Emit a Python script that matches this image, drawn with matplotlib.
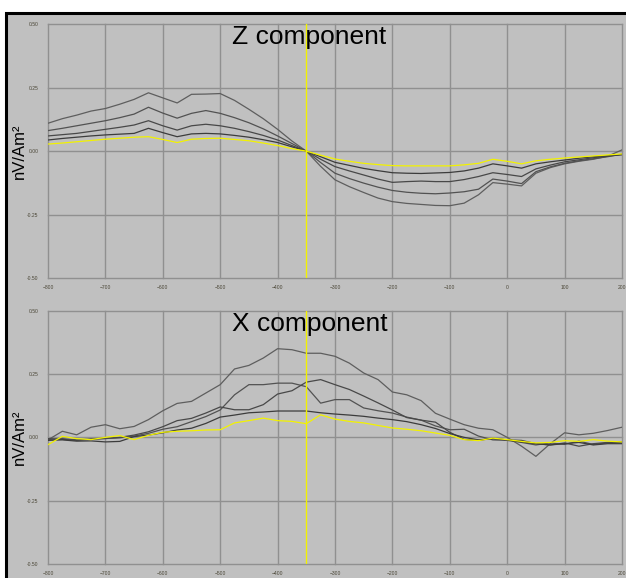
import numpy as np
import matplotlib
matplotlib.use("Agg")
import matplotlib.pyplot as plt
from matplotlib.patches import Rectangle

plt.rcParams['font.family'] = ['Liberation Sans', 'DejaVu Sans']

# time axis (ms), samples every 25 ms
time_ms = list(range(-800, 201, 25))

# ---- Z component ----
z_a = [0.11, 0.128, 0.142, 0.158, 0.168, 0.185, 0.204, 0.23, 0.21, 0.19, 0.224, 0.225, 0.227, 0.2, 0.165,
       0.128, 0.086, 0.04, 0.0, -0.06, -0.113, -0.14, -0.163, -0.185, -0.199, -0.206, -0.21, -0.214, -0.215,
       -0.205, -0.172, -0.124, -0.13, -0.137, -0.087, -0.065, -0.05, -0.04, -0.032, -0.02, 0.005]
z_b = [0.081, 0.09, 0.1, 0.11, 0.12, 0.132, 0.146, 0.173, 0.15, 0.13, 0.149, 0.16, 0.149, 0.132, 0.112,
       0.088, 0.06, 0.03, 0.0, -0.045, -0.087, -0.108, -0.126, -0.142, -0.155, -0.162, -0.166, -0.168, -0.165,
       -0.16, -0.15, -0.11, -0.118, -0.128, -0.081, -0.062, -0.048, -0.038, -0.03, -0.022, -0.012]
z_c = [0.06, 0.065, 0.07, 0.078, 0.086, 0.094, 0.103, 0.12, 0.1, 0.083, 0.1, 0.106, 0.1, 0.09, 0.077,
       0.062, 0.044, 0.022, 0.0, -0.032, -0.061, -0.078, -0.094, -0.11, -0.123, -0.12, -0.118, -0.12, -0.12,
       -0.112, -0.1, -0.085, -0.092, -0.1, -0.07, -0.055, -0.042, -0.034, -0.026, -0.02, -0.013]
z_d = [0.044, 0.05, 0.055, 0.06, 0.064, 0.067, 0.07, 0.09, 0.073, 0.057, 0.068, 0.07, 0.068, 0.062, 0.055,
       0.045, 0.034, 0.017, 0.0, -0.022, -0.044, -0.056, -0.068, -0.077, -0.085, -0.087, -0.088, -0.086, -0.084,
       -0.078, -0.067, -0.05, -0.058, -0.067, -0.05, -0.042, -0.035, -0.028, -0.022, -0.018, -0.014]
z_yel = [0.028, 0.032, 0.037, 0.042, 0.047, 0.051, 0.055, 0.057, 0.046, 0.034, 0.047, 0.05, 0.051, 0.046, 0.041,
         0.032, 0.022, 0.01, 0.0, -0.016, -0.031, -0.04, -0.048, -0.053, -0.057, -0.058, -0.058, -0.058, -0.058,
         -0.054, -0.048, -0.032, -0.04, -0.05, -0.038, -0.032, -0.027, -0.023, -0.019, -0.015, -0.011]

# ---- X component ----
x_a = [-0.01, 0.024, 0.01, 0.04, 0.05, 0.034, 0.043, 0.07, 0.105, 0.134, 0.142, 0.175, 0.208, 0.27, 0.284,
       0.313, 0.35, 0.346, 0.332, 0.332, 0.32, 0.293, 0.254, 0.228, 0.179, 0.168, 0.145, 0.095, 0.072,
       0.05, 0.036, 0.03, 0.0, -0.035, -0.075, -0.025, 0.018, 0.01, 0.016, 0.027, 0.04]
x_p = [-0.008, -0.005, -0.01, -0.006, -0.004, -0.002, 0.005, 0.016, 0.032, 0.042, 0.062, 0.082, 0.108, 0.168, 0.208,
       0.208, 0.214, 0.214, 0.2, 0.135, 0.149, 0.149, 0.116, 0.105, 0.096, 0.08, 0.068, 0.045, 0.03,
       0.032, 0.005, -0.01, -0.012, -0.02, -0.03, -0.022, -0.028, -0.015, -0.028, -0.022, -0.02]
x_r = [-0.005, -0.008, -0.012, -0.008, -0.005, 0.0, 0.009, 0.022, 0.042, 0.066, 0.075, 0.096, 0.12, 0.109, 0.109,
       0.129, 0.171, 0.184, 0.218, 0.228, 0.208, 0.189, 0.163, 0.136, 0.108, 0.078, 0.068, 0.06, 0.02,
       -0.008, -0.012, -0.004, -0.01, -0.012, -0.025, -0.03, -0.022, -0.035, -0.025, -0.02, -0.018]
x_f = [-0.012, -0.01, -0.015, -0.014, -0.018, -0.016, 0.003, 0.009, 0.018, 0.029, 0.036, 0.055, 0.08, 0.088, 0.097,
       0.1, 0.104, 0.104, 0.104, 0.097, 0.092, 0.088, 0.083, 0.076, 0.07, 0.062, 0.05, 0.035, 0.015,
       0.0, -0.01, -0.005, -0.01, -0.018, -0.025, -0.03, -0.025, -0.02, -0.03, -0.025, -0.025]
x_yel = [-0.029, 0.004, -0.005, -0.009, 0.0, 0.007, -0.009, 0.008, 0.02, 0.024, 0.026, 0.029, 0.03, 0.057, 0.066,
         0.076, 0.066, 0.063, 0.054, 0.089, 0.072, 0.063, 0.057, 0.047, 0.037, 0.032, 0.026, 0.017, 0.008,
         -0.009, -0.013, -0.003, -0.009, -0.016, -0.022, -0.02, -0.013, -0.016, -0.009, -0.015, -0.018]

titles = ["Z component", "X component"]
ylabel = "nV/Am\u00b2"
xticks = list(range(-800, 201, 100))
yticks = [-0.5, -0.25, 0.0, 0.25, 0.5]
marker_time = -350

W, H = 626, 578
fig = plt.figure(figsize=(W / 100, H / 100), dpi=100)
fig.patch.set_facecolor('white')

# background axes: grey panel with black frame (left + top visible)
bgax = fig.add_axes([0, 0, 1, 1], zorder=-10)
bgax.set_xlim(0, W)
bgax.set_ylim(H, 0)
bgax.axis('off')
bgax.add_patch(Rectangle((5.5, 12.5), W + 20, H + 20, facecolor='#c0c0c0', edgecolor='black',
                         linewidth=2.2, clip_on=False))

gray_cols = ['#5e5e5e', '#525252', '#484848', '#3c3c3c']
yellow = '#f2f200'

panels = [
    ((24.3, 278.0), [z_a, z_b, z_c, z_d], z_yel),
    ((310.7, 564.0), [x_a, x_p, x_r, x_f], x_yel),
]

for i, ((top, bot), grays, yel) in enumerate(panels):
    ax = fig.add_axes([48 / W, (H - bot) / H, 574 / W, (bot - top) / H])
    ax.set_facecolor('none')
    for s in ax.spines.values():
        s.set_visible(False)
    ax.set_xlim(-800, 200)
    ax.set_ylim(-0.5, 0.5)
    ax.set_xticks(xticks)
    ax.set_yticks(yticks)
    ax.set_yticklabels([f"{v:.2f}" for v in yticks])
    ax.tick_params(length=0, labelsize=3.6, labelcolor='#4a4636')
    ax.tick_params(axis='y', pad=7)
    ax.tick_params(axis='x', pad=5)
    ax.grid(True, color='#909090', linewidth=1.0)
    for gl in ax.get_xgridlines() + ax.get_ygridlines():
        gl.set_clip_on(False)
    ax.set_axisbelow(True)
    for ys, c in zip(grays, gray_cols):
        ax.plot(time_ms, ys, color=c, linewidth=0.9, zorder=3)
    ax.plot(time_ms, yel, color=yellow, linewidth=0.9, zorder=4)
    ax.axvline(marker_time, color=yellow, linewidth=1.0, zorder=5)
    fig.text(19 / W, 1 - ((top + bot) / 2) / H, ylabel, fontsize=12, rotation=90,
             ha='center', va='center', color='black')
    fig.text(232 / W, 1 - (top + 20) / H, titles[i], fontsize=19, ha='left', va='baseline', color='black',
             zorder=6)

fig.savefig('out.png', dpi=100, facecolor=fig.get_facecolor())
